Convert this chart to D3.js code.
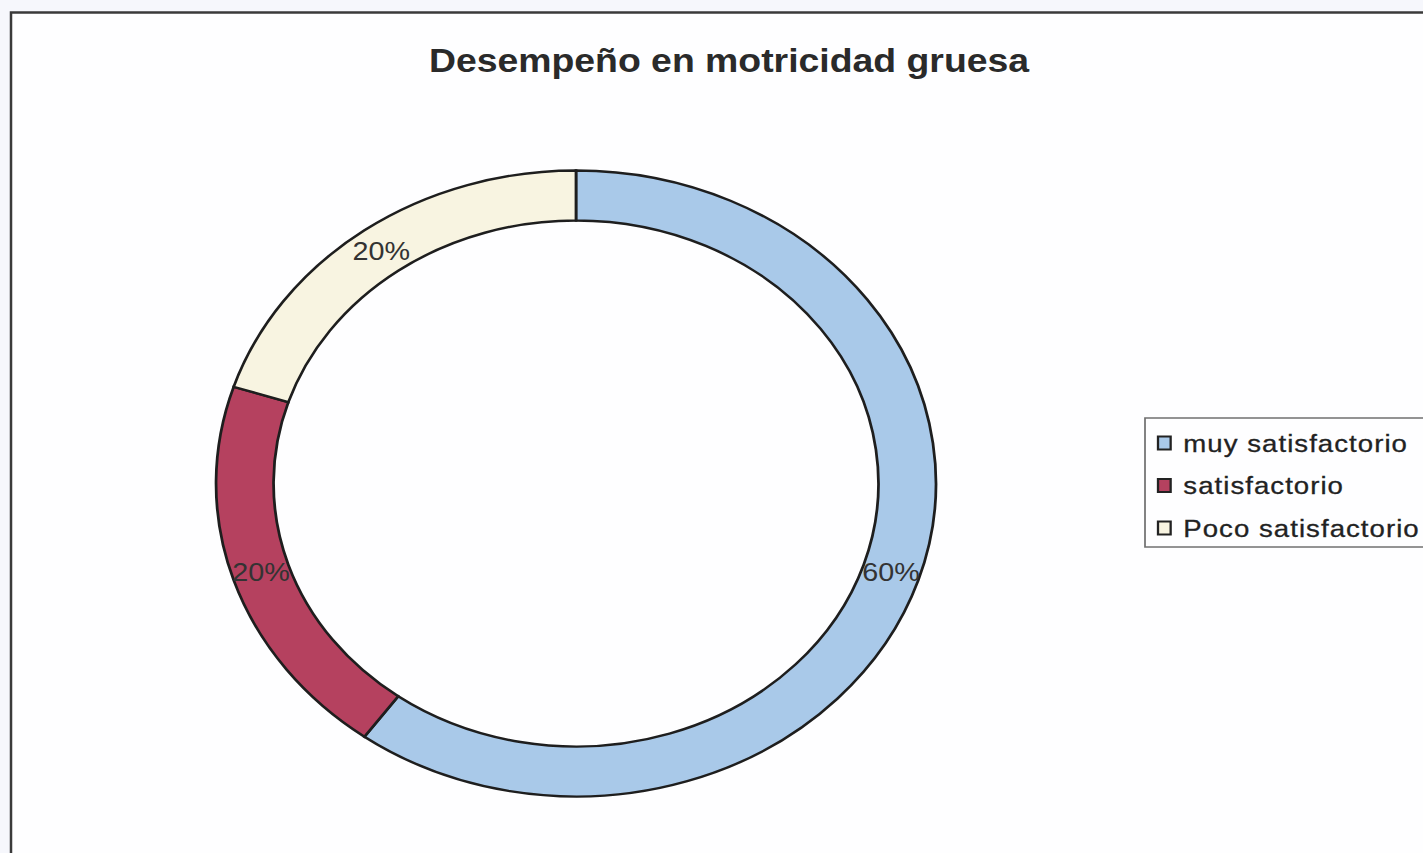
<!DOCTYPE html>
<html>
<head>
<meta charset="utf-8">
<script src="https://cdn.jsdelivr.net/npm/d3@7"></script>
<style>
  html, body { margin: 0; padding: 0; background: #f6f7fc; overflow: hidden; }
  text { font-family: Arial, "Liberation Sans", sans-serif; fill: #222; }
</style>
</head>
<body>
<div id="chart"></div>
<script>
var categories = ["muy satisfactorio", "satisfactorio", "Poco satisfactorio"];
var values = [60, 20, 20];
var colors = ["#a9c9e9", "#b5415f", "#f8f4e1"];
var title = "Desempeño en motricidad gruesa";

var width = 1423;
var height = 853;
var SX = 1.15; // the scanned chart is stretched sideways

var svg = d3.select("#chart")
        .append("svg")
        .attr("width", width)
        .attr("height", height);

// chart frame
svg.append("rect")
    .attr("x", 11)
    .attr("y", 12.5)
    .attr("width", 1500)
    .attr("height", 1000)
    .attr("fill", "#fefeff")
    .attr("stroke", "#3a3a3a")
    .attr("stroke-width", 2.5);

var g = svg.append("g").attr("transform", "scale(" + SX + ",1)");

g.append("text")
    .attr("x", 729 / SX)
    .attr("y", 72)
    .attr("text-anchor", "middle")
    .style("font-size", "32.5px")
    .style("font-weight", "bold")
    .style("fill", "#2a2a2a")
    .text(title);

var outerR = 313;
var innerR = 263;

var pie = d3.pie().sort(null).value(function(d){ return d; });
var arc = d3.arc().innerRadius(innerR).outerRadius(outerR);
var labelArc = d3.arc().innerRadius((innerR + outerR) / 2).outerRadius((innerR + outerR) / 2);

var donut = g.append("g")
    .attr("transform", "translate(" + (576 / SX) + ",483.5)");

var arcs = pie(values);

donut.selectAll("path")
    .data(arcs)
    .enter()
    .append("path")
    .attr("d", arc)
    .attr("fill", function(d, i){ return colors[i]; })
    .attr("stroke", "#1e1e1e")
    .attr("stroke-width", 2.4);

donut.selectAll("text.lbl")
    .data(arcs)
    .enter()
    .append("text")
    .attr("class", "lbl")
    .attr("x", function(d){ return labelArc.centroid(d)[0]; })
    .attr("y", function(d){ return labelArc.centroid(d)[1]; })
    .attr("dy", "0.36em")
    .attr("text-anchor", "middle")
    .style("font-size", "25px")
    .style("fill", "#333")
    .text(function(d){ return d.value + "%"; });

// legend
var legend = g.append("g");
legend.append("rect")
    .attr("x", 1145 / SX)
    .attr("y", 418)
    .attr("width", 400)
    .attr("height", 129)
    .attr("fill", "none")
    .attr("stroke", "#707070")
    .attr("stroke-width", 1.5);

var rows = legend.selectAll("g.row")
    .data(categories)
    .enter()
    .append("g")
    .attr("class", "row")
    .attr("transform", function(d, i){ return "translate(" + (1158 / SX) + "," + (443 + i * 42.5) + ")"; });

rows.append("rect")
    .attr("x", 0)
    .attr("y", -6.5)
    .attr("width", 11)
    .attr("height", 13)
    .attr("fill", function(d, i){ return colors[i]; })
    .attr("stroke", "#222")
    .attr("stroke-width", 2);

rows.append("text")
    .attr("x", 22)
    .attr("y", 0)
    .attr("dy", "0.36em")
    .style("font-size", "24px")
    .style("letter-spacing", "0.9px")
    .style("stroke", "#222")
    .style("stroke-width", 0.3)
    .text(function(d){ return d; });
</script>
</body>
</html>
